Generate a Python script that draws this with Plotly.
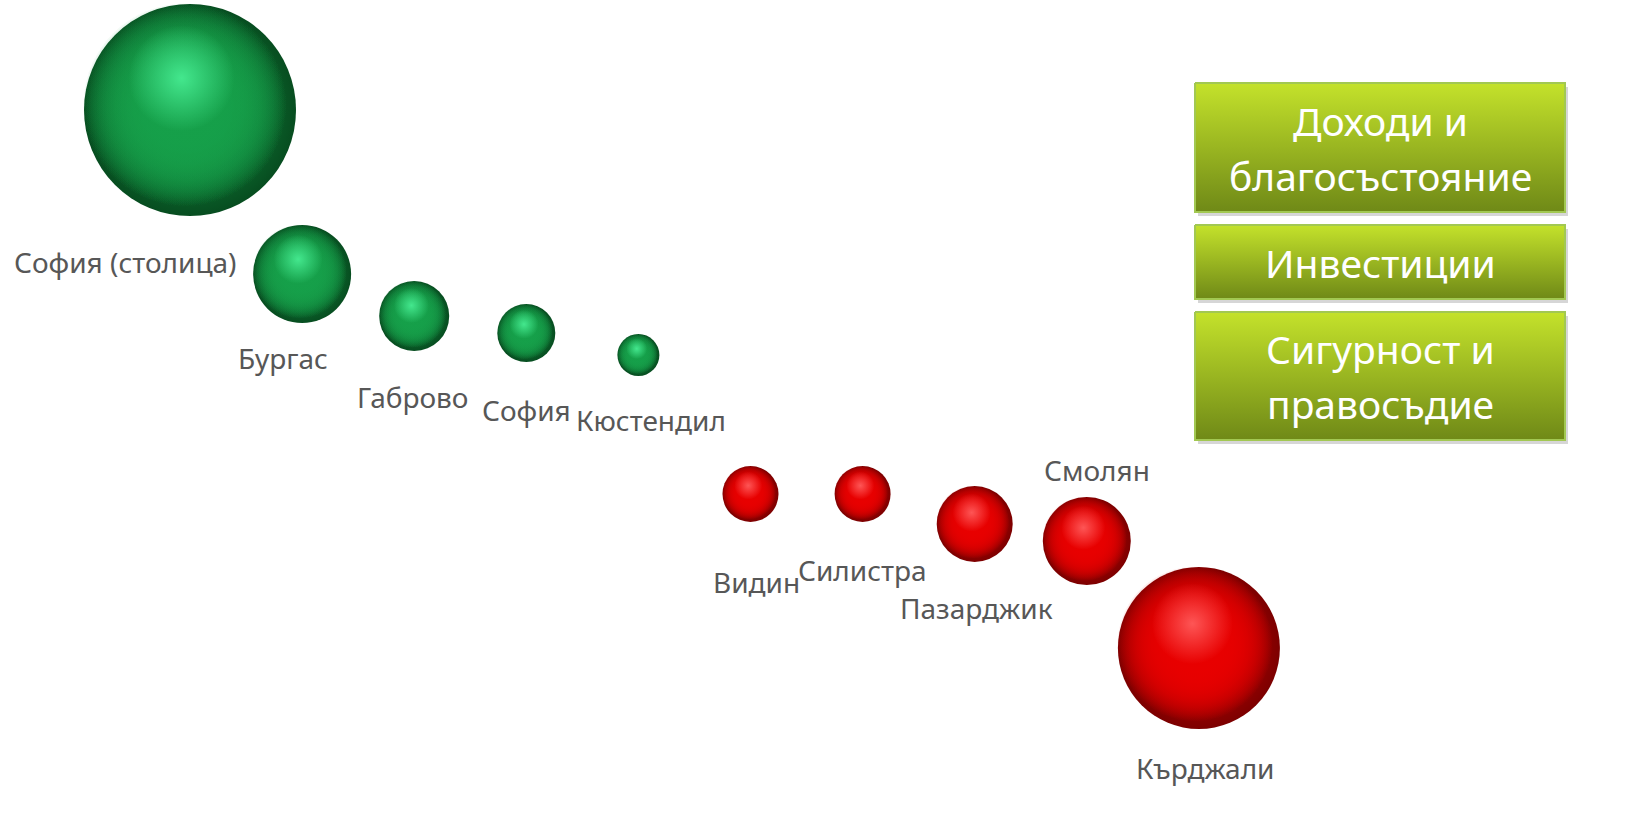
import plotly.graph_objects as go

# ---------------- data ----------------
regions = ["София (столица)", "Бургас", "Габрово", "София", "Кюстендил",
           "Видин", "Силистра", "Пазарджик", "Смолян", "Кърджали"]
rank = [1, 2, 3, 4, 5, 6, 7, 8, 9, 10]
score = [713, 549, 507, 490, 468, 329, 329, 299, 282, 175]
bubble_size = [212, 98, 70, 58, 42, 56, 56, 76, 88, 162]
group = ["top", "top", "top", "top", "top",
         "bottom", "bottom", "bottom", "bottom", "bottom"]
factors = [["Доходи и", "благосъстояние"], ["Инвестиции"], ["Сигурност и", "правосъдие"]]

# ---------------- layout helpers ----------------
W, H = 1651, 823
XMIN, XMAX = -0.695, 14.033
YMIN, YMAX = 0, 823
PX_X = W / (XMAX - XMIN)
PX_Y = H / (YMAX - YMIN)

# label offsets in pixels (dx right, dy down) relative to bubble centres
label_off = [(-65, 152), (-19, 84), (-1, 81), (0, 77), (13, 65),
             (6, 88), (0, 76), (2, 84), (10, -71), (7, 120)]

palette = {
    "top": dict(rim="#074d20", vivid=(22, 160, 74), hi=(70, 235, 145)),
    "bottom": dict(rim="#7c0000", vivid=(232, 0, 0), hi=(255, 90, 90)),
}


def rgba(c, a):
    return "rgba(%d,%d,%d,%s)" % (c[0], c[1], c[2], a)


fig = go.Figure()

for g in ["top", "bottom"]:
    idx = [i for i in range(len(rank)) if group[i] == g]
    xs = [rank[i] for i in idx]
    ys = [score[i] for i in idx]
    ss = [bubble_size[i] for i in idx]
    p = palette[g]
    # base sphere: vivid centre fading to dark rim
    fig.add_trace(go.Scatter(
        x=xs, y=ys, mode="markers", hoverinfo="skip", showlegend=False,
        marker=dict(size=ss, sizemode="diameter", color=p["rim"], line=dict(width=0), opacity=1,
                    gradient=dict(type="radial", color=rgba(p["vivid"], 1)))))
    # body layers, slightly shifted up-left, keep darkness near the rim
    for k in range(4):
        fig.add_trace(go.Scatter(
            x=[x - 0.025 * s / PX_X for x, s in zip(xs, ss)],
            y=[y + 0.025 * s / PX_Y for y, s in zip(ys, ss)],
            mode="markers", hoverinfo="skip", showlegend=False,
            marker=dict(size=[s * 0.96 for s in ss], color=rgba(p["vivid"], 0),
                        line=dict(width=0), opacity=1,
                        gradient=dict(type="radial", color=rgba(p["vivid"], 1)))))
    # highlight
    fig.add_trace(go.Scatter(
        x=[x - 0.04 * s / PX_X for x, s in zip(xs, ss)],
        y=[y + 0.15 * s / PX_Y for y, s in zip(ys, ss)],
        mode="markers", hoverinfo="skip", showlegend=False,
        marker=dict(size=[s * 0.5 for s in ss], color=rgba(p["hi"], 0), line=dict(width=0),
                    opacity=1, gradient=dict(type="radial", color=rgba(p["hi"], 0.95)))))

annotations = []
for i, name in enumerate(regions):
    dx, dy = label_off[i]
    annotations.append(dict(
        x=rank[i], y=score[i], xref="x", yref="y", text=name, showarrow=False,
        xshift=dx, yshift=-dy, xanchor="center", yanchor="middle",
        font=dict(family="Noto Sans", size=28, color="#575757")))

# ---------------- factor boxes (pixel-space overlay axes) ----------------
boxes = [(1195, 1565, 83, 212), (1195, 1565, 225, 299), (1195, 1565, 312, 440)]
for (x0, x1, y0, y1), lines in zip(boxes, factors):
    # shadow
    fig.add_trace(go.Scatter(
        x=[x0 + 3, x1 + 3, x1 + 3, x0 + 3, x0 + 3], y=[y0 + 4, y0 + 4, y1 + 4, y1 + 4, y0 + 4],
        xaxis="x2", yaxis="y2", mode="lines", fill="toself", hoverinfo="skip",
        showlegend=False, line=dict(width=0), fillcolor="rgba(120,120,120,0.3)"))
    fig.add_trace(go.Scatter(
        x=[x0, x1, x1, x0, x0], y=[y0, y0, y1, y1, y0],
        xaxis="x2", yaxis="y2", mode="lines", fill="toself", hoverinfo="skip",
        showlegend=False, line=dict(width=2, color="#a2c852"),
        fillgradient=dict(type="vertical",
                          colorscale=[[0, "#6f8917"], [1, "#c4e22b"]])))
    n = len(lines)
    yc = (y0 + y1) / 2
    for k, t in enumerate(lines):
        ly = yc + (k - (n - 1) / 2) * 55
        annotations.append(dict(
            x=(x0 + x1) / 2, y=ly, xref="x2", yref="y2", text=t, showarrow=False,
            xanchor="center", yanchor="middle",
            font=dict(family="Noto Sans", size=39, color="white")))

fig.update_layout(
    width=W, height=H, margin=dict(l=0, r=0, t=0, b=0),
    paper_bgcolor="white", plot_bgcolor="white",
    xaxis=dict(range=[XMIN, XMAX], visible=False, fixedrange=True),
    yaxis=dict(range=[YMIN, YMAX], visible=False, fixedrange=True),
    xaxis2=dict(range=[0, W], visible=False, overlaying="x", fixedrange=True),
    yaxis2=dict(range=[H, 0], visible=False, overlaying="y", fixedrange=True),
    annotations=annotations,
)

fig.write_html("out.html", config={"displayModeBar": False},
               post_script="document.body.style.margin='0';document.body.style.overflow='hidden';")
